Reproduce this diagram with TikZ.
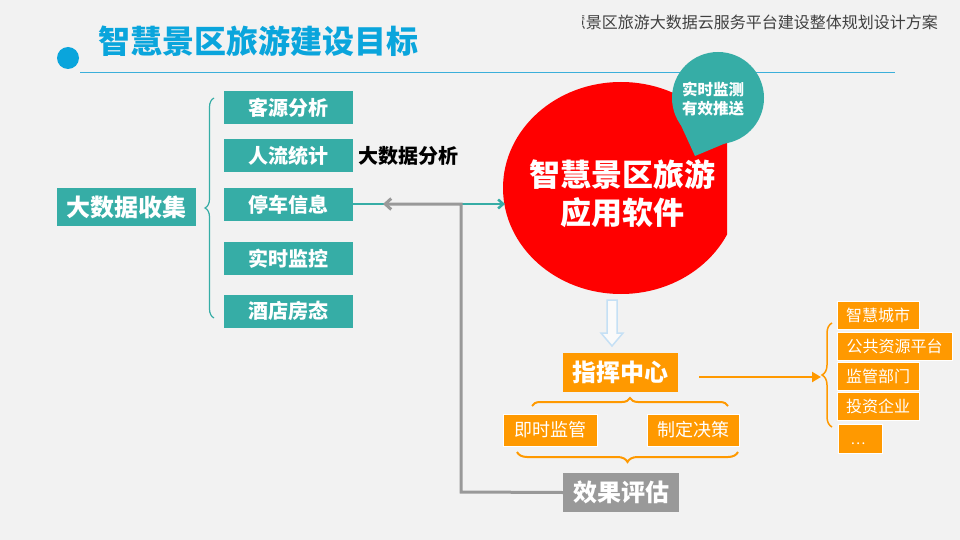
\documentclass[tikz,border=0pt]{standalone}
\usepackage{fontspec}
\newfontfamily\cjk{Noto Sans CJK SC}
\usetikzlibrary{arrows.meta,decorations.pathreplacing}
\definecolor{bg}{HTML}{F2F2F2}
\definecolor{tblue}{HTML}{0AA5DC}
\definecolor{lblue}{HTML}{3BAFDA}
\definecolor{teal1}{HTML}{36ADA6}
\definecolor{orng}{HTML}{FF9900}
\definecolor{gbox}{HTML}{999999}
\definecolor{gline}{HTML}{999999}
\definecolor{hdr}{HTML}{404040}
\definecolor{arrline}{HTML}{C5E0F5}
\tikzset{
  tbox/.style={fill=teal1, text=white, font=\cjk\bfseries\fontsize{20}{22}\selectfont, inner sep=0pt, minimum width=129pt, minimum height=33pt},
  obox/.style={fill=orng, draw=white, line width=0.6pt, text=white, font=\cjk\fontsize{18}{20}\selectfont, inner sep=0pt, minimum height=32pt},
  rbox/.style={fill=orng, draw=white, line width=0.6pt, text=white, font=\cjk\fontsize{16}{18}\selectfont, inner sep=0pt, minimum height=28pt},
  bigbox/.style={text=white, font=\cjk\bfseries\fontsize{24}{26}\selectfont, inner sep=0pt, minimum height=39pt},
  bracel/.style={decorate, decoration={brace, amplitude=#1}},
}
\begin{document}
\begin{tikzpicture}[x=1pt,y=-1pt]
\fill[bg] (0,0) rectangle (960,540);
\useasboundingbox (0,0) rectangle (960,540);

% header
\begin{scope}
\clip (582,0) rectangle (960,60);
\node[anchor=east, inner sep=0pt, text=hdr, font=\cjk\fontsize{16}{18}\selectfont] (hdr) at (938,22) {智慧景区旅游大数据云服务平台建设整体规划设计方案};
\end{scope}

% title
\node[anchor=west, inner sep=0pt, text=tblue, font=\cjk\bfseries\fontsize{32}{34}\selectfont] (title) at (98,41) {智慧景区旅游建设目标};
\fill[tblue] (68,58) circle (11pt);
\draw[lblue, line width=1.5pt] (80,72.5) -- (895,72.5);

% left part
\node[tbox, minimum width=139pt, minimum height=38pt, font=\cjk\bfseries\fontsize{24}{26}\selectfont] (collect) at (126.5,207) {大数据收集};
\node[tbox] (b1) at (288.5,107.5) {客源分析};
\node[tbox] (b2) at (288.5,155.5) {人流统计};
\node[tbox] (b3) at (288.5,204.5) {停车信息};
\node[tbox] (b4) at (288.5,258.5) {实时监控};
\node[tbox] (b5) at (288.5,311) {酒店房态};
\draw[teal1, line width=1.2pt, bracel=9pt] (214,318) -- (214,98);
\node[inner sep=0pt, font=\cjk\bfseries\fontsize{20}{22}\selectfont] (ana) at (408,156) {大数据分析};

% red ellipse
\begin{scope}
\clip (400,60) rectangle (727,300);
\fill[red] (621,188) ellipse [x radius=118pt, y radius=106pt];
\end{scope}
\node[align=center, inner sep=0pt, text=white, font=\cjk\bfseries\fontsize{31}{38}\selectfont] (app) at (622,194) {智慧景区旅游\\应用软件};

% teal bubble
\fill[teal1] (718,98) circle (46pt);
\fill[teal1] (695,156) -- (679,121) -- (726,143) -- cycle;
\node[align=center, inner sep=0pt, text=white, font=\cjk\bfseries\fontsize{15.5}{19}\selectfont] (rt) at (713,99.5) {实时监测\\有效推送};

% connectors left
\coordinate (appin) at (505,204);
\draw[teal1, line width=2.5pt, -{Straight Barb[length=5pt,width=9pt]}] (b3.east |- appin) -- (appin);
\coordinate (gt) at (383,204);
\coordinate (gc1) at (461,204);
\coordinate (gc2) at (461,492);

% down arrow
\draw[arrline, fill=white!60!bg, line width=1.5pt, line join=miter] (607,300) -- (617,300) -- (617,333) -- (623,333) -- (612,346) -- (601,333) -- (607,333) -- cycle;

% command center
\node[bigbox, fill=orng, minimum width=115pt] (zh) at (620.5,372.5) {指挥中心};
\draw[orng, line width=2pt, bracel=8pt] (532,406) -- (728,406);
\node[obox, minimum width=94pt] (jg) at (550,430) {即时监管};
\node[obox, minimum width=92pt] (jc) at (693,430) {制定决策};
\draw[orng, line width=2pt, bracel=10pt] (738,452) -- (517,452);
\node[bigbox, fill=gbox, minimum width=116pt] (xg) at (621,492.5) {效果评估};

\draw[gline, line width=3pt, -{Straight Barb[length=6pt,width=11pt]}] (xg.west) -- (gc2) -- (gc1) -- (gt);

% right
\coordinate (oa) at (699,377);
\coordinate (ob) at (821,377);
\draw[orng, line width=2.5pt, -{Triangle[length=9pt,width=10pt]}] (oa) -- (ob);
\draw[orng, line width=1.5pt, bracel=10pt] (832,427) -- (832,323);
\node[rbox, minimum width=82pt] (r1) at (878,315) {智慧城市};
\node[rbox, minimum width=115pt] (r2) at (894.5,346) {公共资源平台};
\node[rbox, minimum width=82pt] (r3) at (878,376.5) {监管部门};
\node[rbox, minimum width=82pt] (r4) at (878,406) {投资企业};
\node[rbox, minimum width=44pt, minimum height=29pt] (r5) at (860,438.5) {};
\node[inner sep=0pt, text=white, font=\cjk\fontsize{14}{16}\selectfont] (dots) at (858,444) {…};
\end{tikzpicture}
\end{document}
